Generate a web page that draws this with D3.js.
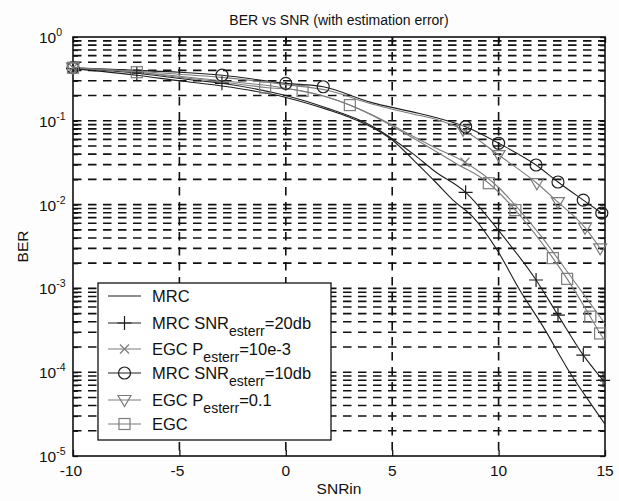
<!DOCTYPE html>
<html><head><meta charset="utf-8">
<script src="https://cdn.jsdelivr.net/npm/d3@7"></script>
<style>body{margin:0;background:#fff}svg{display:block}</style></head>
<body><svg id="c" width="619" height="501"></svg>
<script>
// ---- data (SNR in dB, BER) ----
const xTicks = [-10, -5, 0, 5, 10, 15];
const yTickExp = [0, -1, -2, -3, -4, -5];

const mrcSnr = [-10,-7,-5,-3,0,2,3,4,5,6,7,7.86,8.8,9.92,11,12.09,13.36,14.2,15];
const mrcBer = [0.42,0.35,0.30,0.26,0.19,0.135,0.11,0.085,0.059,0.034,0.019,0.0113,0.0071,0.0029,0.00095,0.00035,0.000098,0.000047,0.000024];
const mrcMark = [];

const mrc20Snr = [-10,-7,-5,-3,0,2,4,6,7,8.45,10,11.76,12.79,13.98,14.91];
const mrc20Ber = [0.42,0.37,0.32,0.28,0.20,0.14,0.088,0.04,0.025,0.014,0.0049,0.00126,0.00048,0.00016,0.00008];
const mrc20Mark = [1,1,0,1,0,0,0,0,0,1,1,1,1,1,1];

const egc3Snr = [-10,-7,-5,-3,0,2,4,6,7,8.42,10,11,12,13,14,15];
const egc3Ber = [0.43,0.38,0.34,0.30,0.245,0.19,0.12,0.065,0.048,0.032,0.016,0.0085,0.0042,0.0019,0.00085,0.00038];
const egc3Mark = [1,0,0,0,0,0,0,0,0,1,0,0,0,0,0,0];

const mrc10Snr = [-10,-7,-5,-3,0,1.76,4,6,7,8.45,10,11.76,12.79,13.98,14.85];
const mrc10Ber = [0.43,0.40,0.38,0.35,0.28,0.255,0.166,0.127,0.11,0.085,0.054,0.0297,0.0186,0.0113,0.0079];
const mrc10Mark = [1,0,0,1,1,1,0,0,0,1,1,1,1,1,1];

const egc01Snr = [-10,-7,-5,-3,0,2,4,6,7,8.33,10,11.8,12.79,14.06,14.77];
const egc01Ber = [0.43,0.39,0.36,0.33,0.27,0.23,0.16,0.12,0.105,0.078,0.039,0.018,0.0107,0.0053,0.003];
const egc01Mark = [1,0,0,0,0,0,0,0,0,1,1,1,1,1,1];

const egcSnr = [-10,-7,-5,-3,-0.97,0.79,3.01,4,6,8,9.54,10.79,12.55,13.22,14.31,14.77,15];
const egcBer = [0.43,0.38,0.33,0.29,0.25,0.227,0.154,0.118,0.062,0.031,0.018,0.0086,0.0023,0.0013,0.00046,0.00029,0.00024];
const egcMark = [1,1,0,0,1,1,1,0,0,0,1,1,1,1,1,1,0];

const DARK = "#1e1e1e", GRAY = "#7c7c7c";
const series = [
  {name:"MRC", snr:mrcSnr, ber:mrcBer, mark:mrcMark, sym:null, color:DARK, legY:296},
  {name:["MRC SNR","esterr","=20db"], snr:mrc20Snr, ber:mrc20Ber, mark:mrc20Mark, sym:"plus", color:DARK, legY:323},
  {name:["EGC P","esterr","=10e-3"], snr:egc3Snr, ber:egc3Ber, mark:egc3Mark, sym:"x", color:GRAY, legY:349},
  {name:["MRC SNR","esterr","=10db"], snr:mrc10Snr, ber:mrc10Ber, mark:mrc10Mark, sym:"circle", color:DARK, legY:373},
  {name:["EGC P","esterr","=0.1"], snr:egc01Snr, ber:egc01Ber, mark:egc01Mark, sym:"tri", color:GRAY, legY:400},
  {name:"EGC", snr:egcSnr, ber:egcBer, mark:egcMark, sym:"square", color:GRAY, legY:424}
];

// ---- layout ----
const L = 73, R = 605, T = 37, B = 456;
const svg = d3.select("#c");
const FONT = "'Liberation Sans', Arial, Helvetica, sans-serif";
const x = d3.scaleLinear().domain([-10, 15]).range([L, R]);
const y = d3.scaleLog().domain([1e-5, 1]).range([B, T]);

svg.append("rect").attr("width", 619).attr("height", 501).attr("fill", "#fdfdfd");
svg.append("rect").attr("x", L).attr("y", T).attr("width", R - L).attr("height", B - T).attr("fill", "#fff");

// grid values
const gridY = [];
yTickExp.slice(1).forEach(e => { for (let m = 1; m <= 9; m++) gridY.push(m * Math.pow(10, e)); });
const g = svg.append("g");
g.selectAll("line.gy").data(gridY.filter(v => v > 1e-5 && v < 1)).join("line")
  .attr("x1", L).attr("x2", R).attr("y1", d => y(d)).attr("y2", d => y(d))
  .attr("stroke", "#111").attr("stroke-width", 1.6).attr("stroke-dasharray", "8.5,6.5");
g.selectAll("line.gx").data(xTicks.filter(v => v > -10 && v < 15)).join("line")
  .attr("x1", d => x(d)).attr("x2", d => x(d)).attr("y1", T).attr("y2", B)
  .attr("stroke", "#111").attr("stroke-width", 1.6).attr("stroke-dasharray", "8.5,6.5");

// axes with inward ticks (MATLAB style)
const yAxisL = d3.axisLeft(y).tickValues(gridY.concat([1])).tickSize(-5).tickFormat("");
const yAxisR = d3.axisRight(y).tickValues(gridY.concat([1])).tickSize(-5).tickFormat("");
const xAxisB = d3.axisBottom(x).tickValues(xTicks).tickSize(-6).tickFormat("");
const xAxisT = d3.axisTop(x).tickValues(xTicks).tickSize(-6).tickFormat("");
[[yAxisL, `translate(${L},0)`], [yAxisR, `translate(${R},0)`], [xAxisB, `translate(0,${B})`], [xAxisT, `translate(0,${T})`]].forEach(([ax, tr]) => {
  const a = svg.append("g").attr("transform", tr).call(ax);
  a.select(".domain").remove();
  a.selectAll("line").attr("stroke", "#111").attr("stroke-width", 1.3);
});
svg.append("rect").attr("x", L).attr("y", T).attr("width", R - L).attr("height", B - T)
  .attr("fill", "none").attr("stroke", "#111").attr("stroke-width", 1.6);

// tick labels
svg.append("g").selectAll("text").data(xTicks).join("text")
  .attr("x", d => x(d) - (d < 0 ? 2 : 0)).attr("y", 476).attr("text-anchor", "middle")
  .attr("font-family", FONT).attr("font-size", 15.5).attr("fill", "#111").text(d => d);
const yl = svg.append("g").selectAll("text").data(yTickExp).join("text")
  .attr("x", 39).attr("y", d => y(Math.pow(10, d)) + 6)
  .attr("font-family", FONT).attr("font-size", 15.5).attr("fill", "#111");
yl.append("tspan").text("10");
yl.append("tspan").attr("dy", -7).attr("font-size", 10.5).text(d => d === 0 ? "0" : "-" + Math.abs(d));

// title & labels
svg.append("text").attr("x", (L + R) / 2).attr("y", 25).attr("text-anchor", "middle")
  .attr("font-family", FONT).attr("font-size", 14).attr("fill", "#111").text("BER vs SNR (with estimation error)");
svg.append("text").attr("x", (L + R) / 2).attr("y", 494).attr("text-anchor", "middle")
  .attr("font-family", FONT).attr("font-size", 15.5).attr("fill", "#111").text("SNRin");
svg.append("text").attr("transform", `translate(28,${(T + B) / 2}) rotate(-90)`).attr("text-anchor", "middle")
  .attr("font-family", FONT).attr("font-size", 15.5).attr("fill", "#111").text("BER");

// data lines
const clipId = "plotclip";
svg.append("clipPath").attr("id", clipId).append("rect").attr("x", L).attr("y", T).attr("width", R - L).attr("height", B - T);
const line = d3.line().x(d => x(d[0])).y(d => y(d[1])).curve(d3.curveMonotoneX);

function drawSym(sel, sym, color) {
  if (sym === "plus") {
    sel.append("path").attr("d", "M-7,0H7M0,-7V7").attr("stroke", color).attr("stroke-width", 1.2).attr("fill", "none");
  } else if (sym === "x") {
    sel.append("path").attr("d", "M-4.5,-4.5L4.5,4.5M-4.5,4.5L4.5,-4.5").attr("stroke", color).attr("stroke-width", 1.2).attr("fill", "none");
  } else if (sym === "circle") {
    sel.append("circle").attr("r", 6).attr("stroke", color).attr("stroke-width", 1.2).attr("fill", "none");
  } else if (sym === "tri") {
    sel.append("path").attr("d", "M-6.5,-4.5L6.5,-4.5L0,6.5Z").attr("stroke", color).attr("stroke-width", 1.2).attr("fill", "none");
  } else if (sym === "square") {
    sel.append("rect").attr("x", -5.5).attr("y", -5.5).attr("width", 11).attr("height", 11).attr("stroke", color).attr("stroke-width", 1.2).attr("fill", "none");
  }
}

const plot = svg.append("g").attr("clip-path", `url(#${clipId})`);
series.forEach(s => {
  const pts = s.snr.map((v, i) => [v, s.ber[i]]);
  plot.append("path").datum(pts).attr("d", line).attr("fill", "none").attr("stroke", s.color).attr("stroke-width", 1.1);
  if (s.sym) {
    pts.forEach((p, i) => {
      if (s.mark[i]) {
        const gg = svg.append("g").attr("transform", `translate(${x(p[0])},${y(p[1])})`);
        drawSym(gg, s.sym, s.color);
      }
    });
  }
});

// legend
const lg = svg.append("g");
lg.append("rect").attr("x", 98).attr("y", 283).attr("width", 233).attr("height", 157)
  .attr("fill", "#fff").attr("stroke", "#111").attr("stroke-width", 1.3);
series.forEach(s => {
  lg.append("line").attr("x1", 108).attr("x2", 141).attr("y1", s.legY).attr("y2", s.legY)
    .attr("stroke", s.color).attr("stroke-width", 1.1);
  if (s.sym) drawSym(lg.append("g").attr("transform", `translate(124.5,${s.legY})`), s.sym, s.color);
  const t = lg.append("text").attr("x", 152).attr("y", s.legY + 5.5)
    .attr("font-family", FONT).attr("font-size", 16.5).attr("fill", "#111");
  if (typeof s.name === "string") t.text(s.name);
  else {
    t.append("tspan").text(s.name[0]);
    t.append("tspan").attr("dy", 7).attr("font-size", 14).text(s.name[1]);
    t.append("tspan").attr("dy", -7).text(s.name[2]);
  }
});
</script>
</body></html>
